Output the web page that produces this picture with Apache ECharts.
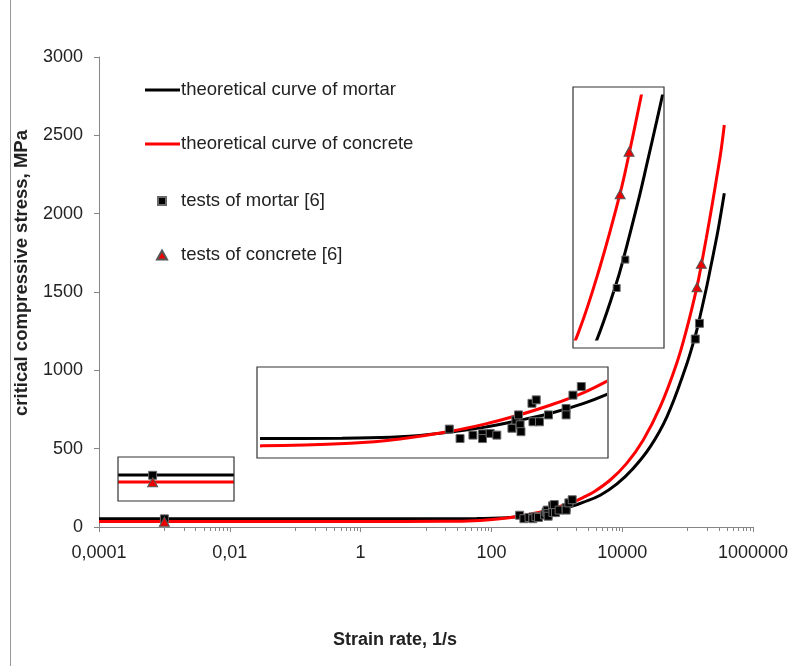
<!DOCTYPE html>
<html>
<head>
<meta charset="utf-8">
<script src="https://cdn.jsdelivr.net/npm/echarts@6/dist/echarts.min.js"></script>
<style>
html,body{margin:0;padding:0;background:#fff;}
#chart{width:788px;height:666px;}
</style>
</head>
<body>
<div id="chart"></div>
<script>
// ---------- data ----------
const xTickLabels = ['0,0001', '0,01', '1', '100', '10000', '1000000'];
const seriesNames = ['theoretical curve of mortar', 'theoretical curve of concrete', 'tests of mortar [6]', 'tests of concrete [6]'];
const xTitle = 'Strain rate, 1/s';
const yTitle = 'critical compressive stress, MPa';

// theoretical curve of mortar: [strain rate 1/s, stress MPa]
const mortarCurve = [
  [0.0001, 53], [0.01, 53], [1, 53], [19.5, 53], [60, 54], [135, 57], [275, 68], [437, 79],
  [692, 94], [1120, 112], [1780, 135], [2510, 157], [4610, 203], [8320, 275], [14800, 375],
  [26900, 513], [48400, 705], [91800, 1010], [127000, 1200], [145000, 1292], [195000, 1530],
  [222000, 1645], [261000, 1790], [298000, 1915], [364000, 2130]
];
// theoretical curve of concrete
const concreteCurve = [
  [0.0001, 35], [0.01, 35], [1, 35], [19.5, 36], [67.6, 42], [135, 52], [275, 70], [437, 86],
  [692, 106], [1120, 131], [1780, 160], [2510, 188], [3610, 222], [6560, 300], [11800, 408],
  [21000, 556], [38200, 768], [67800, 1042], [98400, 1275], [139000, 1533], [162000, 1672],
  [192000, 1838], [209000, 1925], [245000, 2090], [281000, 2240], [325000, 2405], [364000, 2566]
];
// tests of mortar [6]
const mortarTests = [
  [0.001, 52],
  [270, 75], [314, 53], [376, 61], [430, 64], [430, 53], [479, 65], [526, 61], [650, 77],
  [687, 96], [713, 108], [729, 85], [738, 69], [861, 135], [914, 143], [873, 92], [957, 92],
  [1086, 108], [1390, 123], [1390, 108], [1530, 154], [1720, 174],
  [131000, 1200], [152000, 1300]
];
// tests of concrete [6]
const concreteTests = [
  [0.001, 34], [139000, 1530], [162000, 1680]
];

// minor tick positions on the strain-rate axis (k * 10^n)
const minorDecades = [-3, -1, 1, 3, 5];
const minorTickExps = [];
minorDecades.forEach(n => { for (let k = 1; k <= 9; k++) minorTickExps.push(Math.log10(k * Math.pow(10, n))); });

// ---------- chart ----------
const FONT = '"Liberation Sans", Arial, sans-serif';
const AX = '#868686';
const TXT = '#222';

const grids = [
  { left: 99, right: 35, top: 57, bottom: 139, outerBoundsMode: 'none', containLabel: false },   // main
  { left: 120, width: 112, top: 457, height: 44, outerBoundsMode: 'none', containLabel: false }, // inset near 0.001
  { left: 262, width: 343, top: 367, height: 91, outerBoundsMode: 'none', containLabel: false }, // inset 20..2400
  { left: 574, width: 89, top: 96, height: 243, outerBoundsMode: 'none', containLabel: false }   // inset high rates
];

const hiddenAxis = { show: false, splitLine: { show: false } };

const xAxes = [
  {
    type: 'log', logBase: 100, gridIndex: 0, min: 0.0001, max: 1000000,
    axisLine: { show: true, onZero: false, lineStyle: { color: AX, width: 1 } },
    axisTick: { show: true, inside: false, length: 5, lineStyle: { color: AX } },
    axisLabel: {
      fontSize: 18, fontFamily: FONT, color: TXT, margin: 17,
      formatter: v => xTickLabels[Math.round((Math.log10(v) + 4) / 2)]
    },
    splitLine: { show: false }, minorTick: { show: false }
  },
  {
    type: 'value', gridIndex: 0, min: -4, max: 6, position: 'bottom',
    axisLine: { show: false, onZero: false },
    axisTick: { show: true, inside: false, length: 4, customValues: minorTickExps, lineStyle: { color: AX } },
    axisLabel: { show: false }, splitLine: { show: false }
  },
  Object.assign({ type: 'log', gridIndex: 1, min: 0.000447, max: 0.00708 }, hiddenAxis),
  Object.assign({ type: 'log', gridIndex: 2, min: 19.5, max: 2399 }, hiddenAxis),
  Object.assign({ type: 'log', gridIndex: 3, min: 63000, max: 290000 }, hiddenAxis)
];
const yAxes = [
  {
    type: 'value', gridIndex: 0, min: 0, max: 3000, interval: 500,
    axisLine: { show: true, onZero: false, lineStyle: { color: AX, width: 1 } },
    axisTick: { show: true, inside: false, length: 5, lineStyle: { color: AX } },
    axisLabel: { fontSize: 18, fontFamily: FONT, color: TXT, margin: 16, formatter: v => String(v) },
    splitLine: { show: false }
  },
  Object.assign({ type: 'value', gridIndex: 1, min: -14, max: 99 }, hiddenAxis),
  Object.assign({ type: 'value', gridIndex: 2, min: 7.8, max: 219.4 }, hiddenAxis),
  Object.assign({ type: 'value', gridIndex: 3, min: 1020.5, max: 1876 }, hiddenAxis)
];

const sqSize = [8, 8, 8, 7];
const triSize = [[10, 9], [10, 9], [10, 9], [10, 9]];
const xIdx = [0, 2, 3, 4];
const series = [];
for (let g = 0; g < 4; g++) {
  series.push({
    name: seriesNames[0], type: 'line', xAxisIndex: xIdx[g], yAxisIndex: g,
    data: mortarCurve, smooth: 0.4, symbol: 'none', clip: true,
    lineStyle: { color: '#000', width: 3 }, itemStyle: { color: '#000' }, z: 2
  });
  series.push({
    name: seriesNames[1], type: 'line', xAxisIndex: xIdx[g], yAxisIndex: g,
    data: concreteCurve, smooth: 0.4, symbol: 'none', clip: true,
    lineStyle: { color: '#ff0000', width: 3 }, itemStyle: { color: '#ff0000' }, z: 3
  });
  series.push({
    name: seriesNames[2], type: 'scatter', xAxisIndex: xIdx[g], yAxisIndex: g,
    data: mortarTests, symbol: 'rect', symbolSize: sqSize[g], clip: true,
    itemStyle: { color: '#000', borderColor: '#6a6a6a', borderWidth: 1, opacity: 1 }, z: 4
  });
  series.push({
    name: seriesNames[3], type: 'scatter', xAxisIndex: xIdx[g], yAxisIndex: g,
    data: concreteTests, symbol: 'triangle', symbolSize: triSize[g], clip: true,
    itemStyle: { color: '#ee0000', borderColor: '#555', borderWidth: 1, opacity: 1 }, z: 5
  });
}

function legend(item, left, top, w, h, padLeft) {
  return { data: [item], left: left, top: top, orient: 'vertical', padding: 0, itemWidth: w, itemHeight: h,
    selectedMode: false,
    textStyle: { fontSize: 18.5, fontFamily: FONT, color: TXT, lineHeight: 20, padding: [0, 0, 0, padLeft] } };
}
const legends = [
  legend({ name: seriesNames[0], icon: 'rect', itemStyle: { color: '#000' } }, 145, 80, 35, 3, -4),
  legend({ name: seriesNames[1], icon: 'rect', itemStyle: { color: '#ff0000' } }, 145, 134, 35, 3, -4),
  legend({ name: seriesNames[2] }, 157, 191, 8, 8, 10),
  legend({ name: seriesNames[3] }, 156, 245, 10, 9, 9)
];

const boxStyle = { fill: 'rgba(0,0,0,0)', stroke: '#333', lineWidth: 1.2 };
const graphics = [
  { type: 'line', shape: { x1: 10.5, y1: 0, x2: 10.5, y2: 666 }, style: { stroke: '#999', lineWidth: 1 }, silent: true },
  { type: 'rect', shape: { x: 118, y: 457, width: 116, height: 44 }, style: boxStyle, silent: true, z: 10 },
  { type: 'rect', shape: { x: 257, y: 367, width: 351, height: 91 }, style: boxStyle, silent: true, z: 10 },
  { type: 'rect', shape: { x: 573, y: 87, width: 91, height: 261 }, style: boxStyle, silent: true, z: 10 },
  { type: 'text', x: 395, y: 640, silent: true,
    style: { text: xTitle, font: 'bold 18px ' + FONT, fill: TXT, align: 'center', verticalAlign: 'middle' } },
  { type: 'text', x: 22, y: 273, rotation: Math.PI / 2, silent: true,
    style: { text: yTitle, font: 'bold 18.5px ' + FONT, fill: TXT, align: 'center', verticalAlign: 'middle' } }
];

const chart = echarts.init(document.getElementById('chart'), null, { renderer: 'canvas' });
chart.setOption({
  backgroundColor: '#fff',
  animation: false,
  grid: grids,
  xAxis: xAxes,
  yAxis: yAxes,
  legend: legends,
  series: series,
  graphic: graphics
});
</script>
</body>
</html>
